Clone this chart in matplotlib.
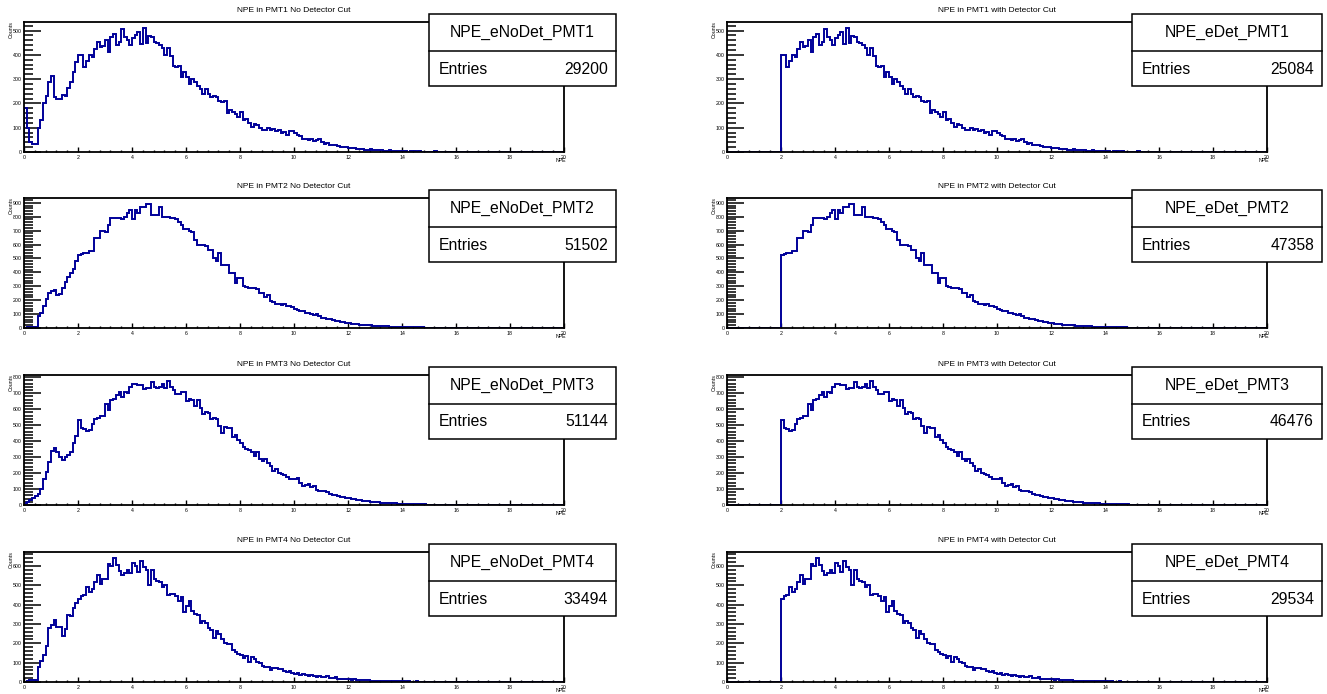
import numpy as np
import matplotlib
matplotlib.use('Agg')
import matplotlib.pyplot as plt
from matplotlib.patches import Rectangle
from matplotlib.lines import Line2D
from matplotlib.ticker import MultipleLocator

plt.rcParams['font.family'] = ['Liberation Sans', 'DejaVu Sans']

# NPE histograms, 200 bins of 0.1 from 0 to 20 (no detector cut)
npe_edges = np.linspace(0, 20, 201)

npe_pmt1 = [
    180, 100, 40, 32, 35, 100, 130, 200, 230, 290,
    315, 225, 220, 220, 235, 230, 265, 290, 330, 372,
    400, 398, 350, 375, 398, 390, 425, 455, 432, 435,
    460, 412, 475, 485, 440, 455, 505, 475, 460, 440,
    470, 480, 495, 445, 510, 448, 478, 475, 455, 450,
    440, 430, 400, 430, 395, 355, 350, 355, 310, 330,
    310, 280, 300, 290, 270, 260, 240, 260, 240, 225,
    230, 225, 210, 205, 210, 160, 175, 165, 155, 145,
    165, 130, 135, 120, 105, 115, 110, 100, 90, 90,
    100, 90, 95, 85, 90, 80, 82, 70, 88, 85,
    80, 70, 65, 55, 52, 50, 55, 45, 48, 52,
    40, 35, 38, 30, 28, 30, 25, 22, 20, 22,
    18, 15, 17, 13, 12, 14, 10, 9, 11, 8,
    8, 7, 9, 6, 5, 7, 4, 5, 6, 4,
    3, 4, 2, 3, 3, 2, 4, 2, 1, 2,
    2, 1, 3, 1, 2, 1, 1, 2, 1, 1,
    1, 1, 0, 2, 1, 0, 1, 1, 0, 1,
    1, 0, 1, 0, 1, 1, 0, 0, 1, 0,
    0, 1, 0, 0, 1, 0, 0, 1, 0, 0,
    0, 0, 1, 0, 0, 0, 1, 0, 0, 0,
]

npe_pmt2 = [
    0, 5, 8, 10, 10, 85, 110, 160, 210, 255,
    265, 272, 235, 245, 290, 330, 370, 395, 425, 485,
    525, 535, 540, 540, 555, 555, 650, 650, 700, 700,
    690, 740, 790, 790, 790, 790, 780, 800, 830, 845,
    785, 850, 825, 870, 870, 890, 890, 815, 815, 815,
    870, 800, 800, 800, 790, 790, 780, 760, 740, 710,
    710, 700, 690, 630, 600, 600, 600, 590, 560, 560,
    500, 480, 540, 450, 450, 450, 395, 395, 325, 360,
    360, 300, 295, 290, 285, 290, 280, 250, 250, 220,
    235, 195, 190, 170, 175, 165, 170, 160, 157, 150,
    140, 130, 120, 125, 110, 105, 100, 95, 100, 85,
    75, 70, 65, 62, 58, 50, 48, 45, 42, 38,
    35, 32, 30, 28, 25, 24, 22, 20, 18, 17,
    15, 14, 13, 12, 11, 10, 9, 9, 8, 7,
    7, 6, 6, 5, 5, 4, 4, 4, 3, 3,
    3, 3, 2, 2, 3, 2, 2, 1, 2, 1,
    1, 2, 1, 1, 1, 0, 1, 1, 0, 1,
    1, 0, 1, 1, 0, 0, 1, 0, 0, 1,
    0, 0, 1, 0, 0, 1, 0, 0, 0, 0,
    0, 1, 0, 0, 0, 0, 0, 1, 0, 0,
]

npe_pmt3 = [
    10, 20, 30, 45, 55, 70, 100, 160, 205, 270,
    335, 355, 330, 300, 280, 300, 310, 330, 390, 435,
    530, 480, 475, 465, 470, 510, 540, 545, 555, 560,
    630, 595, 660, 665, 690, 710, 675, 705, 700, 740,
    760, 755, 750, 750, 725, 730, 730, 770, 740, 735,
    740, 760, 735, 775, 740, 720, 695, 695, 705, 710,
    650, 665, 655, 620, 660, 610, 570, 580, 575, 540,
    545, 540, 495, 450, 490, 485, 480, 425, 440, 410,
    390, 360, 350, 345, 330, 305, 330, 285, 275, 285,
    260, 245, 215, 225, 200, 195, 185, 175, 160, 165,
    165, 170, 140, 120, 125, 130, 115, 120, 95, 90,
    85, 88, 80, 70, 65, 62, 58, 52, 48, 45,
    42, 38, 35, 33, 30, 27, 25, 23, 21, 19,
    18, 16, 15, 13, 12, 11, 10, 10, 9, 8,
    7, 7, 6, 6, 5, 5, 4, 4, 4, 3,
    3, 3, 3, 2, 2, 2, 2, 1, 2, 1,
    1, 1, 2, 1, 1, 1, 0, 1, 1, 0,
    1, 0, 1, 0, 1, 0, 0, 1, 0, 0,
    0, 1, 0, 0, 0, 1, 0, 0, 0, 1,
    0, 0, 0, 1, 0, 0, 0, 0, 0, 0,
]

npe_pmt4 = [
    0, 5, 8, 8, 8, 80, 110, 140, 185, 280,
    295, 320, 285, 285, 240, 275, 345, 340, 380, 410,
    430, 445, 450, 490, 465, 480, 515, 555, 505, 535,
    535, 610, 600, 640, 605, 575, 555, 565, 580, 565,
    615, 600, 570, 625, 595, 580, 500, 580, 530, 520,
    515, 490, 500, 450, 455, 455, 445, 420, 440, 360,
    395, 420, 365, 350, 345, 305, 315, 305, 280, 270,
    225, 265, 250, 220, 200, 195, 195, 165, 155, 145,
    140, 125, 135, 105, 130, 120, 105, 100, 85, 80,
    75, 60, 72, 70, 65, 68, 55, 50, 55, 45,
    40, 45, 38, 42, 35, 30, 35, 32, 28, 30,
    28, 25, 30, 22, 20, 24, 18, 16, 17, 14,
    14, 12, 13, 10, 11, 9, 8, 9, 7, 7,
    6, 7, 5, 6, 4, 5, 4, 3, 4, 3,
    3, 2, 3, 2, 2, 3, 1, 2, 2, 1,
    1, 2, 1, 1, 2, 1, 0, 1, 1, 0,
    1, 0, 1, 1, 0, 1, 0, 0, 1, 0,
    0, 1, 0, 0, 1, 0, 0, 1, 0, 0,
    1, 0, 0, 0, 0, 1, 0, 0, 0, 0,
    0, 0, 1, 0, 0, 0, 0, 0, 1, 0,
]

pmt_hists = [npe_pmt1, npe_pmt2, npe_pmt3, npe_pmt4]
entries_nodet = [29200, 51502, 51144, 33494]
entries_det = [25084, 47358, 46476, 29534]
det_cut = 2.0

W, H = 1327, 694
fig = plt.figure(figsize=(W / 100, H / 100), dpi=100)

# frame positions in pixels (left/right column, rows)
col_x = [(24, 564), (727, 1267)]
row_top = [22, 198, 375, 552]
frame_h = 130
box_x = [(429, 616), (1132, 1322)]
line_color = '#000099'
small = 3.8


def fx(px):
    return px / W


def fy(py):
    return 1 - py / H


for i, hist in enumerate(pmt_hists):
    hist = np.array(hist, dtype=float)
    ymax = 1.05 * hist.max()
    for j in range(2):
        x0, x1 = col_x[j]
        top = row_top[i]
        ax = fig.add_axes([fx(x0), fy(top + frame_h), fx(x1 - x0), frame_h / H])
        vals = hist.copy()
        if j == 1:
            vals[npe_edges[:-1] < det_cut] = 0
            name = f'NPE_eDet_PMT{i + 1}'
            title = f'NPE in PMT{i + 1} with Detector Cut'
            entries = entries_det[i]
        else:
            name = f'NPE_eNoDet_PMT{i + 1}'
            title = f'NPE in PMT{i + 1} No Detector Cut'
            entries = entries_nodet[i]

        # under the frame line so empty bins sit behind the black axis
        ax.stairs(vals, npe_edges, color=line_color, lw=1.4, zorder=2.4)
        ax.set_xlim(0, 20)
        ax.set_ylim(0, ymax)
        ax.xaxis.set_major_locator(MultipleLocator(2))
        ax.xaxis.set_minor_locator(MultipleLocator(0.4))
        ax.yaxis.set_major_locator(MultipleLocator(100))
        ax.yaxis.set_minor_locator(MultipleLocator(20))
        ax.tick_params(axis='y', which='major', direction='in', length=12, width=1.1,
                       labelsize=small, pad=1.5)
        ax.tick_params(axis='y', which='minor', direction='in', length=6.5, width=1.1)
        ax.tick_params(axis='x', which='major', direction='in', length=3.5, width=1.0,
                       labelsize=small, pad=2)
        ax.tick_params(axis='x', which='minor', direction='in', length=1.8, width=1.0)
        for sp in ax.spines.values():
            sp.set_linewidth(1.3)

        # axis labels, ROOT style
        fig.text(fx(x0 - 13), fy(top - 1), 'Counts', rotation=90, ha='center', va='top',
                 fontsize=small)
        fig.text(fx(x1 + 2), fy(top + frame_h + 6), 'NPE', ha='right', va='top', fontsize=small)

        # title
        fig.text(fx((x0 + x1) / 2), fy(top - 11), title, ha='center', va='center', fontsize=6)

        # stats box
        bx0, bx1 = box_x[j]
        btop = top - 8
        bh = 72
        fig.add_artist(Rectangle((fx(bx0), fy(btop + bh)), fx(bx1 - bx0), bh / H,
                                 transform=fig.transFigure, facecolor='white',
                                 edgecolor='black', lw=1.1, zorder=5))
        fig.add_artist(Line2D([fx(bx0), fx(bx1)], [fy(btop + 37), fy(btop + 37)],
                              transform=fig.transFigure, color='black', lw=1.1, zorder=6))
        fig.text(fx((bx0 + bx1) / 2), fy(btop + 18.5), name, ha='center', va='center',
                 fontsize=11.3, zorder=7)
        fig.text(fx(bx0 + 10), fy(btop + 55), 'Entries', ha='left', va='center',
                 fontsize=11.3, zorder=7)
        fig.text(fx(bx1 - 8), fy(btop + 55), f'{entries}', ha='right', va='center',
                 fontsize=11.3, zorder=7)

fig.savefig('out.png', dpi=100)
